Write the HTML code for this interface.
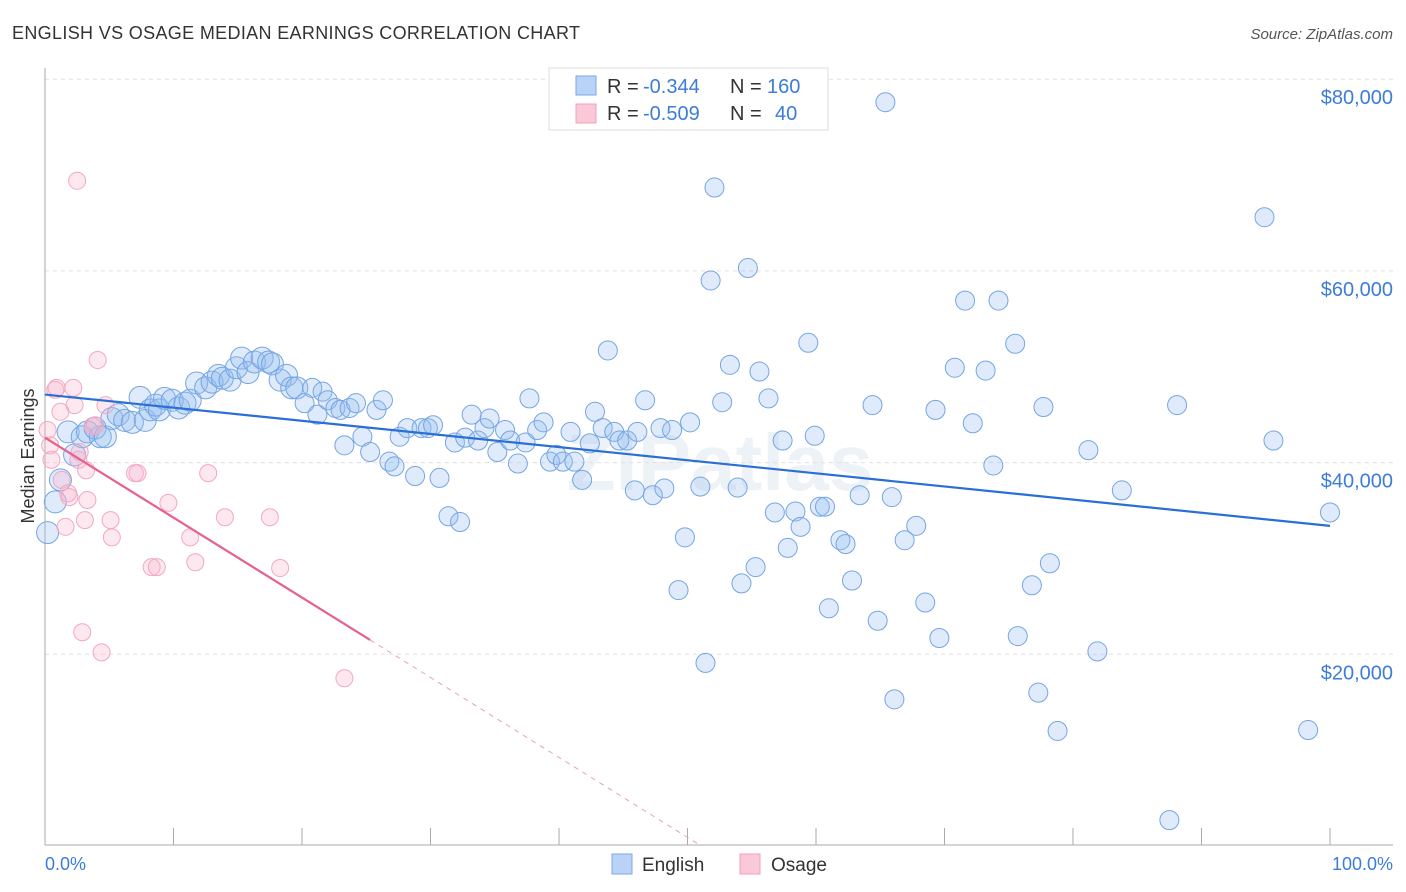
<!DOCTYPE html>
<html><head><meta charset="utf-8"><style>
body{margin:0;background:#fff;font-family:"Liberation Sans",sans-serif;}
svg{display:block}
</style></head><body>
<svg id="chart" width="1406" height="892" viewBox="0 0 1406 892" xmlns="http://www.w3.org/2000/svg" font-family="Liberation Sans, sans-serif">
<text x="12" y="39" font-size="18" fill="#333" textLength="568">ENGLISH VS OSAGE MEDIAN EARNINGS CORRELATION CHART</text>
<text x="1393" y="39" font-size="15" fill="#555" font-style="italic" text-anchor="end">Source: ZipAtlas.com</text>
<text x="720" y="490" font-size="80" fill="#edf2f7" text-anchor="middle" font-weight="bold">ZIPatlas</text>
<g id="grid"></g>
<g id="axes"></g>
<g id="marks"></g>
<g id="trend"></g>
<text transform="translate(34,456) rotate(-90)" font-size="18" fill="#333" text-anchor="middle">Median Earnings</text>
<text x="45" y="870" font-size="18" fill="#3b7dd8">0.0%</text>
<text x="1393" y="870" font-size="18" fill="#3b7dd8" text-anchor="end">100.0%</text>
<g>
<rect x="549" y="68" width="279" height="62" fill="#fff" stroke="#ddd"/>
<rect x="576" y="76" width="20" height="19" fill="#b8d3f5" stroke="#7aa8e6"/>
<rect x="576" y="104" width="20" height="19" fill="#fbc8d8" stroke="#f0a0bb"/>
<text x="607" y="93" font-size="20" fill="#333">R =</text>
<text x="643" y="93" font-size="20" fill="#3b7dd8">-0.344</text>
<text x="730" y="93" font-size="20" fill="#333">N =</text>
<text x="767" y="93" font-size="20" fill="#3b7dd8">160</text>
<text x="607" y="120" font-size="20" fill="#333">R =</text>
<text x="643" y="120" font-size="20" fill="#3b7dd8">-0.509</text>
<text x="730" y="120" font-size="20" fill="#333">N =</text>
<text x="775" y="120" font-size="20" fill="#3b7dd8">40</text>
</g>
<g>
<rect x="612" y="854" width="20" height="20" fill="#b8d3f5" stroke="#7aa8e6"/>
<text x="642" y="871" font-size="19" fill="#333">English</text>
<rect x="740" y="854" width="20" height="20" fill="#fbc8d8" stroke="#f0a0bb"/>
<text x="771" y="871" font-size="19" fill="#333">Osage</text>
</g>
</svg>
<script>
const yTicks=[20000,40000,60000,80000];
const yTickLabels=["$20,000","$40,000","$60,000","$80,000"];
const xTicks=[0,10,20,30,40,50,60,70,80,90,100];
const englishX=[0.2,0.8,1.2,1.8,2.3,2.9,3.3,3.9,4.3,4.7,5.2,5.7,6.2,6.8,7.4,7.8,8.2,8.6,8.9,9.3,9.9,10.4,10.9,11.3,11.8,12.5,13.0,13.5,13.8,14.4,14.9,15.3,15.8,16.3,16.9,17.4,17.7,18.3,18.8,19.2,19.6,20.2,20.8,21.2,21.6,22.0,22.6,23.0,23.3,23.7,24.2,24.7,25.3,25.8,26.3,26.8,27.2,27.6,28.2,28.8,29.3,29.8,30.2,30.7,31.4,31.9,32.3,32.7,33.2,33.7,34.2,34.6,35.2,35.8,36.2,36.8,37.4,37.7,38.3,38.8,39.3,39.8,40.3,40.9,41.2,41.8,42.4,42.8,43.4,43.8,44.3,44.7,45.3,45.9,46.1,46.7,47.3,47.9,48.2,48.8,49.3,49.8,50.2,51.0,51.4,51.8,52.1,52.7,53.3,53.9,54.2,54.7,55.3,55.6,56.3,56.8,57.4,57.8,58.4,58.8,59.4,59.9,60.3,60.7,61.0,61.9,62.3,62.8,63.4,64.4,64.8,65.4,65.9,66.1,66.9,67.8,68.5,69.3,69.6,70.8,71.6,72.2,73.2,73.8,74.2,75.5,75.7,76.8,77.3,77.7,78.2,78.8,81.2,81.9,83.8,87.5,88.1,94.9,95.6,98.3,100];
const englishY=[32.7,35.9,38.2,43.2,40.8,42.7,43.2,43.6,42.7,42.7,44.6,45.0,44.4,44.2,46.8,44.4,45.5,46.0,45.5,46.7,46.5,45.7,46.2,46.5,48.3,47.8,48.4,49.1,48.8,48.6,49.9,50.9,49.4,50.5,50.9,50.5,50.3,48.6,49.1,47.8,47.8,46.2,47.8,45.0,47.4,46.5,45.7,45.5,41.8,45.7,46.2,42.7,41.1,45.5,46.5,40.1,39.6,42.7,43.6,38.6,43.6,43.6,43.9,38.4,34.4,42.1,33.8,42.6,45.0,42.3,43.6,44.6,41.1,43.4,42.3,39.9,42.1,46.7,43.4,44.2,40.1,40.8,40.1,43.2,40.1,38.2,42.0,45.3,43.6,51.7,43.2,42.3,42.3,37.1,43.2,46.5,36.6,43.6,37.3,43.4,26.7,32.2,44.2,37.5,19.1,59.0,68.7,46.3,50.2,37.4,27.4,60.3,29.1,49.5,46.7,34.8,42.3,31.1,34.9,33.3,52.5,42.8,35.4,35.4,24.8,31.9,31.5,27.7,36.6,46.0,23.5,77.6,36.4,15.3,31.9,33.4,25.4,45.5,21.7,49.9,56.9,44.1,49.6,39.7,56.9,52.4,21.9,27.2,16.0,45.8,29.5,12.0,41.3,20.3,37.1,2.7,46.0,65.6,42.3,12.1,34.8];
const osageX=[0.2,0.4,0.5,0.8,0.9,1.2,1.3,1.6,1.8,1.9,2.2,2.3,2.6,2.7,3.1,3.2,3.3,3.7,3.9,4.1,4.4,4.7,5.1,5.2,2.5,2.9,7.0,7.2,8.3,8.7,9.6,11.3,11.7,12.7,14.0,17.5,18.3,23.3];
const osageY=[43.4,41.8,40.3,47.6,47.8,45.3,38.2,33.3,36.8,36.4,47.8,46.0,40.3,41.1,34.0,39.2,36.1,43.8,43.9,50.7,20.2,46.0,34.0,32.2,69.4,22.3,38.9,38.9,29.1,29.1,35.8,32.2,29.6,38.9,34.3,34.3,29.0,17.5];
const englishTrend=[47.1,33.4];
const osageTrend=[42.6,-0.834];

const NS="http://www.w3.org/2000/svg";
const X0=45,X1=1330,Y0=846,PX_PER_K=191.7/20;
const xs=v=>X0+(X1-X0)*v/100;
const ys=k=>Y0-k*PX_PER_K;
function mk(tag,attrs,parent){const e=document.createElementNS(NS,tag);for(const k in attrs)e.setAttribute(k,attrs[k]);parent.appendChild(e);return e;}
const grid=document.getElementById('grid'),axes=document.getElementById('axes'),marks=document.getElementById('marks'),trend=document.getElementById('trend');
yTicks.forEach((t,i)=>{
  const y=ys(t/1000);
  const l=mk('line',{x1:45,x2:1393,y1:y,y2:y,stroke:'#e0e0e0','stroke-dasharray':'4,4'},grid);
  
  
  const tx=mk('text',{x:1393,y:y+25,'font-size':20,fill:'#3b7dd8','text-anchor':'end'},grid);
  tx.textContent=yTickLabels[i];
  
  
});
const ya=mk('line',{x1:45,x2:45,y1:68,y2:845,stroke:'#aaa'},axes);


const xa=mk('line',{x1:45,x2:1393,y1:845,y2:845,stroke:'#aaa'},axes);


xTicks.forEach(t=>{
  const x=xs(t);
  const l=mk('line',{x1:x,x2:x,y1:828,y2:845,stroke:'#aaa'},axes);
  
  
});
englishX.forEach((v,i)=>{
  const r=v<20?11:9.5;
  const c=mk('circle',{cx:xs(v),cy:ys(englishY[i]),r:r,fill:'rgba(150,190,240,0.3)',stroke:'#75a5e4','stroke-width':1},marks);
  
  
});
osageX.forEach((v,i)=>{
  const c=mk('circle',{cx:xs(v),cy:ys(osageY[i]),r:8.5,fill:'rgba(248,180,205,0.3)',stroke:'#f2a8c0','stroke-width':1},marks);
  
  
});
const et=mk('line',{x1:xs(0),y1:ys(englishTrend[0]),x2:xs(100),y2:ys(englishTrend[1]),stroke:'#2a6fd6','stroke-width':2.2},trend);


const oEnd=25.3,oZero=-osageTrend[0]/osageTrend[1];
const ot=mk('line',{x1:xs(0),y1:ys(osageTrend[0]),x2:xs(oEnd),y2:ys(osageTrend[0]+osageTrend[1]*oEnd),stroke:'#e8608c','stroke-width':2.2},trend);


const od=mk('line',{x1:xs(oEnd),y1:ys(osageTrend[0]+osageTrend[1]*oEnd),x2:xs(oZero),y2:ys(0),stroke:'#eaa0b8','stroke-width':1,'stroke-dasharray':'5,5'},trend);


</script>
</body></html>
